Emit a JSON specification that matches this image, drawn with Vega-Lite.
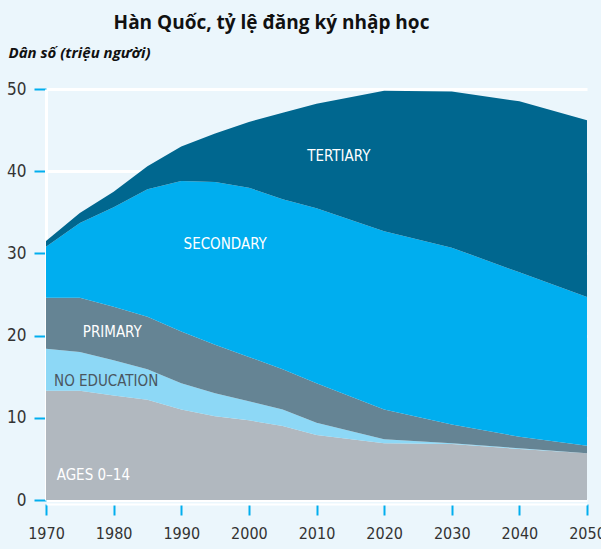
{
  "$schema": "https://vega.github.io/schema/vega-lite/v6.json",
  "width": 541,
  "height": 411,
  "autosize": {"type": "none"},
  "padding": {"left": 46, "top": 89, "right": 14, "bottom": 49},
  "background": "#EBF6FC",
  "config": {"view": {"stroke": null}},
  "title": {
    "text": "Hàn Quốc, tỷ lệ đăng ký nhập học",
    "anchor": "middle",
    "frame": "group",
    "dx": -45,
    "offset": 12,
    "font": "Open Sans",
    "fontWeight": "bold",
    "fontSize": 19,
    "color": "#111111"
  },
  "datasets": {
    "areas": [
      {"year": 1970, "cat": "AGES 0–14", "ord": 1, "v": 13.3},
      {"year": 1970, "cat": "NO EDUCATION", "ord": 2, "v": 5.1},
      {"year": 1970, "cat": "PRIMARY", "ord": 3, "v": 6.2},
      {"year": 1970, "cat": "SECONDARY", "ord": 4, "v": 6.2},
      {"year": 1970, "cat": "TERTIARY", "ord": 5, "v": 0.7},
      {"year": 1975, "cat": "AGES 0–14", "ord": 1, "v": 13.3},
      {"year": 1975, "cat": "NO EDUCATION", "ord": 2, "v": 4.7},
      {"year": 1975, "cat": "PRIMARY", "ord": 3, "v": 6.6},
      {"year": 1975, "cat": "SECONDARY", "ord": 4, "v": 9.1},
      {"year": 1975, "cat": "TERTIARY", "ord": 5, "v": 1.2},
      {"year": 1980, "cat": "AGES 0–14", "ord": 1, "v": 12.7},
      {"year": 1980, "cat": "NO EDUCATION", "ord": 2, "v": 4.3},
      {"year": 1980, "cat": "PRIMARY", "ord": 3, "v": 6.5},
      {"year": 1980, "cat": "SECONDARY", "ord": 4, "v": 12.1},
      {"year": 1980, "cat": "TERTIARY", "ord": 5, "v": 1.9},
      {"year": 1985, "cat": "AGES 0–14", "ord": 1, "v": 12.2},
      {"year": 1985, "cat": "NO EDUCATION", "ord": 2, "v": 3.7},
      {"year": 1985, "cat": "PRIMARY", "ord": 3, "v": 6.4},
      {"year": 1985, "cat": "SECONDARY", "ord": 4, "v": 15.5},
      {"year": 1985, "cat": "TERTIARY", "ord": 5, "v": 2.8},
      {"year": 1990, "cat": "AGES 0–14", "ord": 1, "v": 11.0},
      {"year": 1990, "cat": "NO EDUCATION", "ord": 2, "v": 3.2},
      {"year": 1990, "cat": "PRIMARY", "ord": 3, "v": 6.3},
      {"year": 1990, "cat": "SECONDARY", "ord": 4, "v": 18.3},
      {"year": 1990, "cat": "TERTIARY", "ord": 5, "v": 4.2},
      {"year": 1995, "cat": "AGES 0–14", "ord": 1, "v": 10.2},
      {"year": 1995, "cat": "NO EDUCATION", "ord": 2, "v": 2.8},
      {"year": 1995, "cat": "PRIMARY", "ord": 3, "v": 5.9},
      {"year": 1995, "cat": "SECONDARY", "ord": 4, "v": 19.8},
      {"year": 1995, "cat": "TERTIARY", "ord": 5, "v": 5.9},
      {"year": 2000, "cat": "AGES 0–14", "ord": 1, "v": 9.7},
      {"year": 2000, "cat": "NO EDUCATION", "ord": 2, "v": 2.3},
      {"year": 2000, "cat": "PRIMARY", "ord": 3, "v": 5.4},
      {"year": 2000, "cat": "SECONDARY", "ord": 4, "v": 20.6},
      {"year": 2000, "cat": "TERTIARY", "ord": 5, "v": 8.0},
      {"year": 2005, "cat": "AGES 0–14", "ord": 1, "v": 9.0},
      {"year": 2005, "cat": "NO EDUCATION", "ord": 2, "v": 2.0},
      {"year": 2005, "cat": "PRIMARY", "ord": 3, "v": 4.9},
      {"year": 2005, "cat": "SECONDARY", "ord": 4, "v": 20.7},
      {"year": 2005, "cat": "TERTIARY", "ord": 5, "v": 10.5},
      {"year": 2010, "cat": "AGES 0–14", "ord": 1, "v": 7.9},
      {"year": 2010, "cat": "NO EDUCATION", "ord": 2, "v": 1.5},
      {"year": 2010, "cat": "PRIMARY", "ord": 3, "v": 4.8},
      {"year": 2010, "cat": "SECONDARY", "ord": 4, "v": 21.3},
      {"year": 2010, "cat": "TERTIARY", "ord": 5, "v": 12.7},
      {"year": 2020, "cat": "AGES 0–14", "ord": 1, "v": 6.9},
      {"year": 2020, "cat": "NO EDUCATION", "ord": 2, "v": 0.5},
      {"year": 2020, "cat": "PRIMARY", "ord": 3, "v": 3.6},
      {"year": 2020, "cat": "SECONDARY", "ord": 4, "v": 21.7},
      {"year": 2020, "cat": "TERTIARY", "ord": 5, "v": 17.1},
      {"year": 2030, "cat": "AGES 0–14", "ord": 1, "v": 6.8},
      {"year": 2030, "cat": "NO EDUCATION", "ord": 2, "v": 0.1},
      {"year": 2030, "cat": "PRIMARY", "ord": 3, "v": 2.3},
      {"year": 2030, "cat": "SECONDARY", "ord": 4, "v": 21.5},
      {"year": 2030, "cat": "TERTIARY", "ord": 5, "v": 19.0},
      {"year": 2040, "cat": "AGES 0–14", "ord": 1, "v": 6.2},
      {"year": 2040, "cat": "NO EDUCATION", "ord": 2, "v": 0.1},
      {"year": 2040, "cat": "PRIMARY", "ord": 3, "v": 1.4},
      {"year": 2040, "cat": "SECONDARY", "ord": 4, "v": 20.0},
      {"year": 2040, "cat": "TERTIARY", "ord": 5, "v": 20.8},
      {"year": 2050, "cat": "AGES 0–14", "ord": 1, "v": 5.7},
      {"year": 2050, "cat": "NO EDUCATION", "ord": 2, "v": 0.0},
      {"year": 2050, "cat": "PRIMARY", "ord": 3, "v": 0.9},
      {"year": 2050, "cat": "SECONDARY", "ord": 4, "v": 18.1},
      {"year": 2050, "cat": "TERTIARY", "ord": 5, "v": 21.5}
    ],
    "labels": [
      {"label": "TERTIARY", "year": 2013.3, "v": 41.8, "dark": false},
      {"label": "SECONDARY", "year": 1996.5, "v": 31.1, "dark": false},
      {"label": "PRIMARY", "year": 1979.8, "v": 20.4, "dark": false},
      {"label": "NO EDUCATION", "year": 1978.9, "v": 14.5, "dark": true},
      {"label": "AGES 0–14", "year": 1977.0, "v": 3.0, "dark": false}
    ]
  },
  "layer": [
    {
      "data": {"name": "areas"},
      "mark": {"type": "area", "interpolate": "linear"},
      "encoding": {
        "x": {
          "field": "year", "type": "quantitative",
          "scale": {"domain": [1970, 2050], "nice": false, "zero": false},
          "axis": {
            "values": [1970, 1980, 1990, 2000, 2010, 2020, 2030, 2040, 2050],
            "format": "d", "title": null, "grid": false,
            "domain": true, "domainColor": "#FFFFFF", "domainWidth": 2,
            "offset": 4, "tickSize": 11, "tickWidth": 2, "tickColor": "#00AEEF",
            "labelPadding": 10, "labelFont": "DejaVu Sans Condensed",
            "labelFontSize": 16, "labelColor": "#333333", "labelFlush": false,
            "zindex": 0
          }
        },
        "y": {
          "field": "v", "type": "quantitative", "stack": "zero",
          "scale": {"domain": [0, 50], "nice": false},
          "axis": {
            "values": [0, 10, 20, 30, 40, 50],
            "title": "Dân số (triệu người)", "titleAngle": 0, "titleAlign": "left",
            "titleBaseline": "middle", "titleX": -38, "titleY": -37,
            "titleFont": "Open Sans", "titleFontStyle": "italic", "titleFontWeight": "bold",
            "titleFontSize": 15, "titleColor": "#111111",
            "grid": true, "gridColor": "#FFFFFF", "gridWidth": 3,
            "domain": true, "domainColor": "#FFFFFF", "domainWidth": 3,
            "offset": 0, "tickSize": 12, "tickWidth": 2, "tickColor": "#00AEEF",
            "labelPadding": 8, "labelFont": "DejaVu Sans Condensed",
            "labelFontSize": 17, "labelColor": "#333333",
            "zindex": 0
          }
        },
        "color": {
          "field": "cat", "type": "nominal",
          "scale": {
            "domain": ["AGES 0–14", "NO EDUCATION", "PRIMARY", "SECONDARY", "TERTIARY"],
            "range": ["#B1B8BF", "#8DD8F6", "#658494", "#00AEEF", "#00678F"]
          },
          "legend": null
        },
        "order": {"field": "ord", "type": "quantitative"}
      }
    },
    {
      "data": {"name": "labels"},
      "mark": {"type": "text", "font": "DejaVu Sans Condensed", "fontSize": 15, "align": "center", "baseline": "middle"},
      "encoding": {
        "x": {"field": "year", "type": "quantitative"},
        "y": {"field": "v", "type": "quantitative"},
        "text": {"field": "label"},
        "color": {
          "condition": {"test": "datum.dark", "value": "#4A5660"},
          "value": "#FFFFFF"
        }
      }
    }
  ]
}
